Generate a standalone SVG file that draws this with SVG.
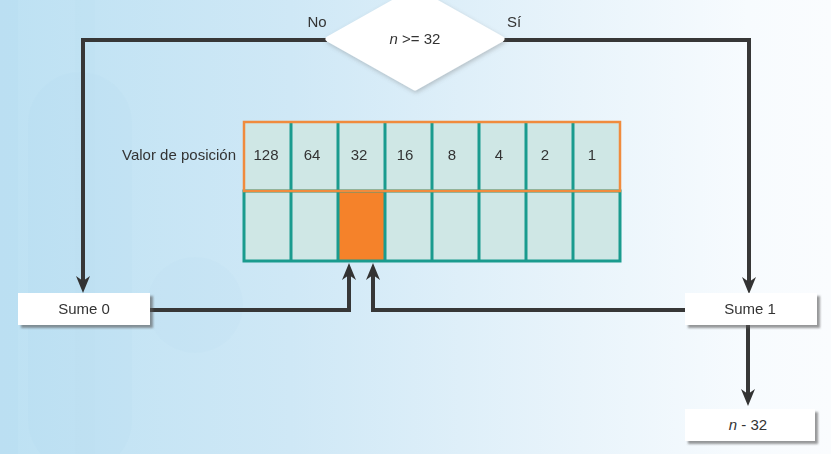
<svg xmlns="http://www.w3.org/2000/svg" width="831" height="454" viewBox="0 0 831 454">
  <defs>
    <linearGradient id="bg" x1="0" y1="0" x2="1" y2="0">
      <stop offset="0" stop-color="#bde1f3"/>
      <stop offset="0.35" stop-color="#cfe8f6"/>
      <stop offset="0.7" stop-color="#e9f4fb"/>
      <stop offset="0.9" stop-color="#f7fbfe"/>
      <stop offset="1" stop-color="#fafcfe"/>
    </linearGradient>
    <filter id="shadow" x="-20%" y="-30%" width="140%" height="170%">
      <feDropShadow dx="3" dy="3" stdDeviation="1.2" flood-color="#555" flood-opacity="0.6"/>
    </filter>
    <filter id="dshadow" x="-20%" y="-30%" width="140%" height="170%">
      <feDropShadow dx="1" dy="2" stdDeviation="2" flood-color="#666" flood-opacity="0.35"/>
    </filter>
    <marker id="arrow" viewBox="0 0 17 14" refX="8" refY="7" markerWidth="17" markerHeight="14" markerUnits="userSpaceOnUse" orient="auto">
      <path d="M0,0 L17,7 L0,14 L5,7 Z" fill="#333"/>
    </marker>
    <style>
      .lbl { font-family: "Liberation Sans", Arial, sans-serif; font-size: 15px; fill: #333; }
      .mid { text-anchor: middle; }
      .box { fill: #fff; filter: url(#shadow); }
      .conn { fill: none; stroke: #373737; stroke-width: 4; stroke-linejoin: miter; }
      .cell { fill: #cfe7e5; }
      .teal { stroke: #1a9b8e; stroke-width: 3; fill: none; }
      .orange { stroke: #f08b3d; stroke-width: 2.5; fill: none; }
    </style>
  </defs>

  <rect x="0" y="0" width="831" height="454" fill="url(#bg)"/>
  <g opacity="0.18">
    <rect x="28" y="72" width="104" height="400" rx="52" fill="#a9d6ee" opacity="0.5"/>
    <circle cx="195" cy="305" r="48" fill="#a9d6ee" opacity="0.4"/>
    <rect x="0" y="0" width="18" height="454" fill="#a9d6ee" opacity="0.5"/>
    <rect x="75" y="0" width="20" height="454" fill="#a9d6ee" opacity="0.4"/>
  </g>

  <g id="connectors">
    <path class="conn" d="M327,40 H83 V284" marker-end="url(#arrow)"/>
    <path class="conn" d="M503,40 H749 V285" marker-end="url(#arrow)"/>
    <path class="conn" d="M150,310 H349 V272" marker-end="url(#arrow)"/>
    <path class="conn" d="M685,310 H373 V272" marker-end="url(#arrow)"/>
    <path class="conn" d="M748,325 V397" marker-end="url(#arrow)"/>
    <text class="lbl mid" x="317" y="27">No</text>
    <text class="lbl mid" x="514" y="27">Sí</text>
  </g>

  <g id="decision">
    <polygon points="415,-10 502,39 415,88 328,39" fill="#fff" stroke="#fff" stroke-width="5" stroke-linejoin="round" filter="url(#dshadow)"/>
    <text class="lbl mid" x="415" y="44"><tspan font-style="italic">n</tspan> &gt;= 32</text>
  </g>

  <g id="table">
    <text class="lbl" x="236" y="160" text-anchor="end">Valor de posición</text>
    <rect class="cell" x="244" y="122" width="376" height="139"/>
    <rect x="338" y="191" width="47" height="70" fill="#f5822a"/>
    <rect class="teal" x="244" y="191" width="376" height="70"/>
    <g class="teal">
      <line x1="291" y1="122" x2="291" y2="261"/>
      <line x1="338" y1="122" x2="338" y2="261"/>
      <line x1="385" y1="122" x2="385" y2="261"/>
      <line x1="432" y1="122" x2="432" y2="261"/>
      <line x1="479" y1="122" x2="479" y2="261"/>
      <line x1="526" y1="122" x2="526" y2="261"/>
      <line x1="573" y1="122" x2="573" y2="261"/>
    </g>
    <rect class="orange" x="244" y="122" width="376" height="69"/>
    <text class="lbl mid" x="266" y="160">128</text>
    <text class="lbl mid" x="312" y="160">64</text>
    <text class="lbl mid" x="359" y="160">32</text>
    <text class="lbl mid" x="405" y="160">16</text>
    <text class="lbl mid" x="452" y="160">8</text>
    <text class="lbl mid" x="499" y="160">4</text>
    <text class="lbl mid" x="545" y="160">2</text>
    <text class="lbl mid" x="592" y="160">1</text>
  </g>

  <g id="sume0">
    <rect class="box" x="18" y="293" width="132" height="32"/>
    <text class="lbl mid" x="84" y="314">Sume 0</text>
  </g>

  <g id="sume1">
    <rect class="box" x="685" y="293" width="132" height="32"/>
    <text class="lbl mid" x="750" y="314">Sume 1</text>
  </g>

  <g id="minus32">
    <rect class="box" x="685" y="409" width="130" height="32"/>
    <text class="lbl mid" x="748" y="430"><tspan font-style="italic">n</tspan> - 32</text>
  </g>
</svg>
